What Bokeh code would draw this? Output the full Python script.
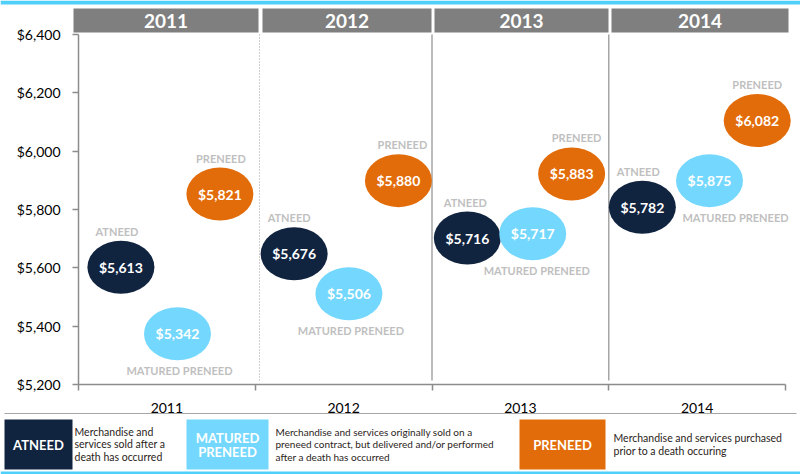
from bokeh.plotting import figure
from bokeh.models import Range1d, FixedTicker, NumeralTickFormatter, ColumnDataSource
from bokeh.core.properties import value
from bokeh.embed import file_html
from bokeh.resources import INLINE

# ---------------- data ----------------
years = ["2011", "2012", "2013", "2014"]
# values printed in the bubbles
atneed = [5613, 5676, 5716, 5782]
matured = [5342, 5506, 5717, 5875]
preneed = [5821, 5880, 5883, 6082]
# bubble centres as drawn in the picture (x in category units, y in $)
atneed_x = [0.24, 1.22, 2.20, 3.19]
matured_x = [0.56, 1.53, 2.57, 3.57]
preneed_x = [0.80, 1.81, 2.79, 3.84]
atneed_y = [5602, 5648, 5702, 5808]
matured_y = [5374, 5511, 5717, 5899]
preneed_y = [5853, 5899, 5922, 6105]
y_ticks = [5200, 5400, 5600, 5800, 6000, 6200, 6400]
series_names = ["ATNEED", "MATURED PRENEED", "PRENEED"]
legend_words = [["ATNEED"], ["MATURED", "PRENEED"], ["PRENEED"]]
legend_desc = [
    ["Merchandise and", "services sold after a", "death has occurred"],
    ["Merchandise and services originally sold on a",
     "preneed contract, but delivered and/or performed",
     "after a death has occurred"],
    ["Merchandise and services purchased", "prior to a death occuring"],
]

# ---------------- styles ----------------
NAVY = "#10233F"
LIGHT = "#74D8FE"
ORANGE = "#E36C0A"
HEADER = "#7F7F7F"
CYAN = "#4FD0FB"
LABEL_GRAY = "#BFBFBF"
AXIS_GRAY = "#8C8C8C"
FONT = value("Lato")

W, H = 800, 474
X0_PX, CAT_PX = 78.0, 176.75        # x of first category boundary, px per category
Y_TOP_PX, Y_BOT_PX = 34.0, 384.0    # px of top / bottom tick
n = len(years)
y_min, y_max = min(y_ticks), max(y_ticks)
PX_Y = (Y_BOT_PX - Y_TOP_PX) / (y_max - y_min)


def X(px):
    return (px - X0_PX) / CAT_PX


def Y(py):
    return y_max - (py - Y_TOP_PX) / PX_Y


p = figure(width=W, height=H, output_backend="svg", toolbar_location=None,
           x_range=Range1d(X(0), X(W)), y_range=Range1d(Y(H), Y(0)),
           min_border=0, min_border_left=0, min_border_right=0,
           min_border_top=0, min_border_bottom=0)
p.outline_line_color = None
p.xgrid.visible = False
p.ygrid.visible = False
p.background_fill_color = "white"
p.border_fill_color = "white"

centers = [i + 0.5 for i in range(n)]
bounds_ticks = list(range(n + 1))

xa = p.xaxis[0]
xa.fixed_location = y_min
xa.ticker = FixedTicker(ticks=centers, minor_ticks=bounds_ticks)
xa.major_label_overrides = {c: y for c, y in zip(centers, years)}
xa.bounds = (0, n)
xa.axis_line_color = AXIS_GRAY
xa.axis_line_width = 1.5
xa.major_tick_out = 0
xa.major_tick_in = 0
xa.minor_tick_out = 6
xa.minor_tick_in = 0
xa.minor_tick_line_color = AXIS_GRAY
xa.minor_tick_line_width = 1.5
xa.major_label_standoff = 12
xa.major_label_text_font = "Lato"
xa.major_label_text_font_size = "14px"
xa.major_label_text_color = "#000000"

ya = p.yaxis[0]
ya.fixed_location = 0
ya.ticker = FixedTicker(ticks=y_ticks)
ya.formatter = NumeralTickFormatter(format="$0,0")
ya.bounds = (y_min, y_max)
ya.axis_line_color = AXIS_GRAY
ya.axis_line_width = 1.5
ya.major_tick_out = 6
ya.major_tick_in = 0
ya.major_tick_line_color = AXIS_GRAY
ya.major_tick_line_width = 1.5
ya.minor_tick_out = 0
ya.minor_tick_in = 0
ya.major_label_standoff = 12
ya.major_label_text_font = "Lato"
ya.major_label_text_font_size = "14px"
ya.major_label_text_color = "#000000"

# top cyan strip
p.quad(left=[X(0)], right=[X(W)], top=[Y(0)], bottom=[Y(4)],
       fill_color=CYAN, line_color=None)

# year header boxes
lefts = [X(73), X(262), X(434), X(611)]
rights = [X(258), X(431), X(608), X(788)]
p.quad(left=lefts, right=rights, top=Y(8), bottom=Y(32),
       fill_color=HEADER, line_color=None)
p.text(x=[(l + r) / 2 for l, r in zip(lefts, rights)], y=[Y(20.5)] * n,
       text=years, text_color="white", text_font=FONT, text_font_style="bold",
       text_font_size="19px", text_align="center", text_baseline="middle")

# category separators
p.segment(x0=[X(259)], y0=[y_max], x1=[X(259)], y1=[Y(380)],
          line_color="#A0A0A0", line_width=1, line_dash="1 2")
p.segment(x0=bounds_ticks[2:n], y0=y_max, x1=bounds_ticks[2:n], y1=Y(380),
          line_color="#A6A6A6", line_width=1.5)


# bubbles
def bubbles(xs, ys, vals, color, name, label_dy, label_dx):
    src = ColumnDataSource(dict(x=xs, y=ys,
                                txt=["${:,}".format(v) for v in vals],
                                name=[name] * len(vals),
                                dx=label_dx))
    p.ellipse(x="x", y="y", width=67, height=53, width_units="screen",
              height_units="screen", source=src, fill_color=color, line_color=None)
    p.text(x="x", y="y", text="txt", source=src, text_color="white", text_font=FONT,
           text_font_style="bold", text_font_size="14px", text_align="center",
           text_baseline="middle")
    p.text(x="x", y="y", text="name", source=src, text_color=LABEL_GRAY,
           text_font=FONT, text_font_style="bold", text_font_size="11px",
           text_align="center", text_baseline="middle", y_offset=label_dy,
           x_offset="dx")


bubbles(atneed_x, atneed_y, atneed, NAVY, series_names[0], -36, [-4, -5, -2, -4])
bubbles(matured_x, matured_y, matured, LIGHT, series_names[1], 37, [2, 2, 4, 26])
bubbles(preneed_x, preneed_y, preneed, ORANGE, series_names[2], -36, [1, 4, 5, 0])

# ---------------- legend strip ----------------
p.segment(x0=[X(4)], y0=[Y(413)], x1=[X(796)], y1=[Y(413)],
          line_color="#A6A6A6", line_width=1)
p.quad(left=[X(0)], right=[X(W)], top=[Y(471)], bottom=[Y(474)],
       fill_color=CYAN, line_color=None)

box_l = [4, 186, 519]
box_r = [72, 268, 605]
p.quad(left=[X(v) for v in box_l], right=[X(v) for v in box_r],
       top=[Y(419)] * 3, bottom=[Y(469)] * 3,
       fill_color=[NAVY, LIGHT, ORANGE], line_color=None)

bx, by, bt = [], [], []
for k, words in enumerate(legend_words):
    ys = [444] if len(words) == 1 else [437, 451]
    cx = (box_l[k] + box_r[k]) / 2
    for w_, yy in zip(words, ys):
        bx.append(X(cx)); by.append(Y(yy)); bt.append(w_)
p.text(x=bx, y=by, text=bt, text_color="white", text_font=FONT,
       text_font_style="bold", text_font_size="13px", text_align="center",
       text_baseline="middle")

desc_x0 = [74, 275, 613]
desc_size = ["10.5px", "10px", "10.5px"]
for k, lines in enumerate(legend_desc):
    ys = [431, 443, 456] if len(lines) == 3 else [437, 450]
    p.text(x=[X(desc_x0[k])] * len(lines), y=[Y(v) for v in ys], text=lines,
           text_color="#2A2420", text_font=FONT, text_font_size=desc_size[k],
           text_align="left", text_baseline="middle")

open("out.html", "w").write(file_html(p, INLINE))
